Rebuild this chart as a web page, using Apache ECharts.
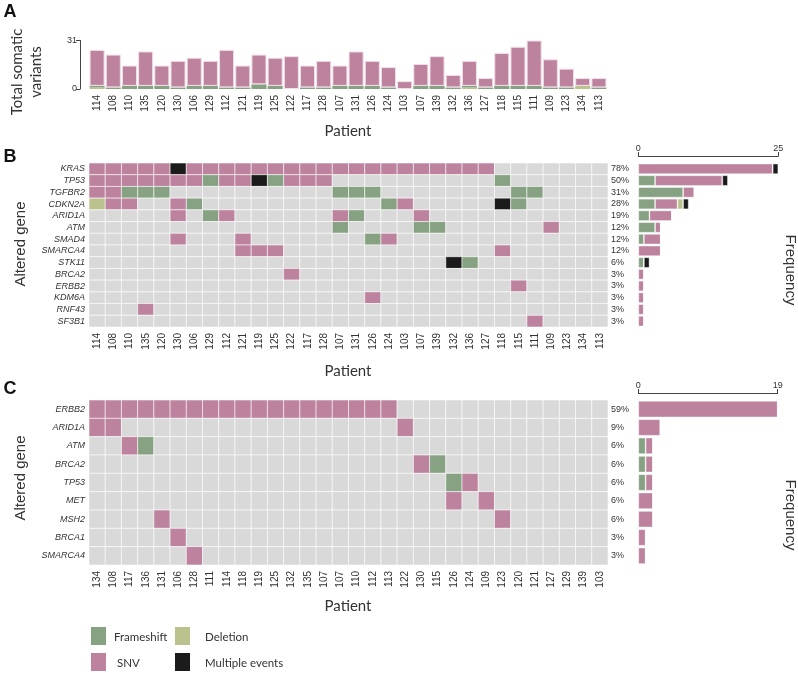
<!DOCTYPE html>
<html>
<head>
<meta charset="utf-8">
<script src="https://cdn.jsdelivr.net/npm/echarts@6/dist/echarts.min.js"></script>
<style>
  html, body { margin: 0; padding: 0; background: #fff; }
  #chart { width: 798px; height: 673px; }
</style>
</head>
<body>
<div id="chart"></div>
<script>
// patient order used in panels A and B (107 really appears twice in the figure)
const patientsAB = ['114', '108', '110', '135', '120', '130', '106', '129', '112', '121', '119', '125', '122', '117', '128', '107',
  '131', '126', '124', '103', '107', '139', '132', '136', '127', '118', '115', '111', '109', '123', '134', '113']
const patientsC = ['134', '108', '117', '136', '131', '106', '128', '111', '114', '118', '119', '125', '132', '135', '107', '107',
  '110', '112', '113', '122', '130', '115', '126', '124', '109', '123', '120', '121', '127', '129', '139', '103']

// panel A: total somatic variants per patient
const snvA = [23, 21, 13, 22, 13, 17, 18, 16, 24, 14, 19, 18, 21, 14, 17, 13, 22, 16, 13, 5, 14, 19, 8, 16, 6, 21, 25, 29, 18, 12, 5, 6]
const frameshiftA = [1, 1, 2, 2, 2, 1, 2, 2, 1, 1, 3, 2, 0, 1, 1, 2, 2, 2, 1, 0, 2, 2, 1, 1, 1, 2, 2, 2, 1, 1, 0, 1]
const deletionA = [1, 0, 0, 0, 0, 0, 0, 0, 0, 0, 0, 0, 0, 0, 0, 0, 0, 0, 0, 0, 0, 0, 0, 1, 0, 0, 0, 0, 0, 0, 2, 0]

// oncoprints: one string per gene, one char per patient, in groups of 8
// . none, S SNV, F frameshift, D deletion, M multiple events
const genesB = ['KRAS', 'TP53', 'TGFBR2', 'CDKN2A', 'ARID1A', 'ATM', 'SMAD4', 'SMARCA4', 'STK11', 'BRCA2', 'ERBB2', 'KDM6A', 'RNF43', 'SF3B1']
const mutB = [
  'SSSSSMSS SSSSSSSS SSSSSSSS S.......',
  'SSSSSSSF SSMFSSS. ........ .F......',
  'SSFFF... .......F FF...... ..FF....',
  'DSS..SF. ........ ..FS.... .MF.....',
  '.....S.F S......S F...S... ........',
  '........ .......F ....FF.. ....S...',
  '.....S.. .S...... .FS..... ........',
  '........ .SSS.... ........ .S......',
  '........ ........ ......MF ........',
  '........ ....S... ........ ........',
  '........ ........ ........ ..S.....',
  '........ ........ .S...... ........',
  '...S.... ........ ........ ........',
  '........ ........ ........ ...S....'
]
const pctB = ['78%', '50%', '31%', '28%', '19%', '12%', '12%', '12%', '6%', '3%', '3%', '3%', '3%', '3%']

const genesC = ['ERBB2', 'ARID1A', 'ATM', 'BRCA2', 'TP53', 'MET', 'MSH2', 'BRCA1', 'SMARCA4']
const mutC = [
  'SSSSSSSS SSSSSSSS SSS..... ........',
  'SS...... ........ ...S.... ........',
  '..SF.... ........ ........ ........',
  '........ ........ ....SF.. ........',
  '........ ........ ......FS ........',
  '........ ........ ......S. S.......',
  '....S... ........ ........ .S......',
  '.....S.. ........ ........ ........',
  '......S. ........ ........ ........'
]
const pctC = ['59%', '9%', '6%', '6%', '6%', '6%', '6%', '3%', '3%']

const KINDS = ['.', 'F', 'S', 'D', 'M']
const COLORS = {
  '.': '#d9d9d9',
  F: '#87a282',
  S: '#bc829e',
  D: '#bcc28d',
  M: '#1b1b1b'
}
const LABEL_FONT = 'Liberation Sans, Arial, sans-serif'
const TEXT = '#333'

function cells (rows) {
  let out = []
  rows.forEach((r, gi) => {
    let s = r.replace(/ /g, '')
    for (let pi = 0; pi < s.length; pi++) out.push([pi, gi, KINDS.indexOf(s[pi])])
  })
  return out
}

function countKind (rows, k) {
  return rows.map(r => r.split('').filter(c => c === k).length)
}

function renderCell (params, api) {
  let c = api.coord([api.value(0), api.value(1)])
  let s = api.size([1, 1])
  let kind = KINDS[api.value(2)]
  return {
    type: 'rect',
    shape: { x: c[0] - s[0] / 2, y: c[1] - s[1] / 2, width: s[0], height: s[1] },
    style: { fill: COLORS[kind], stroke: 'rgba(255,255,255,0.55)', lineWidth: 1 }
  }
}

function patientAxis (gridIndex, names) {
  return {
    type: 'category', gridIndex: gridIndex, data: names,
    axisLine: { show: false }, axisTick: { show: false },
    axisLabel: { rotate: 90, fontSize: 10, margin: 6, color: TEXT, fontFamily: LABEL_FONT, interval: 0 }
  }
}

function geneAxis (gridIndex, names, show) {
  return {
    type: 'category', gridIndex: gridIndex, data: names, inverse: true, show: show,
    axisLine: { show: false }, axisTick: { show: false },
    axisLabel: { fontSize: 9, fontStyle: 'italic', margin: 4, color: TEXT, fontFamily: LABEL_FONT, interval: 0 }
  }
}

function pctAxis (gridIndex, labels) {
  return {
    type: 'category', gridIndex: gridIndex, data: labels, inverse: true, position: 'right',
    axisLine: { show: false }, axisTick: { show: false },
    axisLabel: { fontSize: 9, margin: 3, color: TEXT, fontFamily: LABEL_FONT, interval: 0 }
  }
}

function freqAxis (gridIndex, max) {
  return {
    type: 'value', gridIndex: gridIndex, position: 'top', min: 0, max: max, interval: max, offset: 7,
    axisLine: { show: true, lineStyle: { color: '#444', width: 1 } },
    axisTick: { show: true, length: 4, lineStyle: { color: '#444' } },
    axisLabel: { fontSize: 9, margin: 3, color: TEXT, fontFamily: LABEL_FONT },
    splitLine: { show: false }
  }
}

function freqSeries (axisIndex, rows, stack) {
  return ['F', 'S', 'D', 'M'].map(k => ({
    type: 'bar', xAxisIndex: axisIndex.x, yAxisIndex: axisIndex.y, stack: stack,
    data: countKind(rows, k), barCategoryGap: '10%',
    itemStyle: { color: COLORS[k], borderColor: 'rgba(255,255,255,0.5)', borderWidth: 0.8 }
  }))
}

function label (x, y, text, opts) {
  return Object.assign({
    type: 'text', x: x, y: y,
    style: Object.assign({
      text: text, fill: TEXT, align: 'center', verticalAlign: 'middle',
      fontSize: 14, fontFamily: LABEL_FONT
    }, opts.style || {})
  }, opts.el || {})
}

let chart = echarts.init(document.getElementById('chart'))

let graphics = [
  label(10, 12, 'A', { style: { fontSize: 18, fontWeight: 'bold', fill: '#111' } }),
  label(10, 157, 'B', { style: { fontSize: 18, fontWeight: 'bold', fill: '#111' } }),
  label(10, 389, 'C', { style: { fontSize: 18, fontWeight: 'bold', fill: '#111' } }),
  label(27, 72, 'Total somatic\nvariants', { style: { fontFamily: 'Lato', fontSize: 15, lineHeight: 19 }, el: { rotation: Math.PI / 2 } }),
  label(348, 131, 'Patient', { style: { fontFamily: 'Lato', fontSize: 15 } }),
  label(348, 371, 'Patient', { style: { fontFamily: 'Lato', fontSize: 15 } }),
  label(348, 606, 'Patient', { style: { fontFamily: 'Lato', fontSize: 15 } }),
  label(21, 244, 'Altered gene', { style: { fontSize: 15 }, el: { rotation: Math.PI / 2 } }),
  label(21, 478, 'Altered gene', { style: { fontSize: 15 }, el: { rotation: Math.PI / 2 } }),
  label(790, 270, 'Frequency', { style: { fontSize: 15 }, el: { rotation: -Math.PI / 2 } }),
  label(790, 515, 'Frequency', { style: { fontSize: 15 }, el: { rotation: -Math.PI / 2 } })
]

// legend, drawn as a 2x2 block under panel C
let legendItems = [
  { name: 'Frameshift', kind: 'F', x: 91, y: 627, tx: 114 },
  { name: 'Deletion', kind: 'D', x: 175, y: 627, tx: 205 },
  { name: 'SNV', kind: 'S', x: 91, y: 653, tx: 117 },
  { name: 'Multiple events', kind: 'M', x: 175, y: 653, tx: 205 }
]
legendItems.forEach(it => {
  graphics.push({ type: 'rect', shape: { x: it.x, y: it.y, width: 15, height: 18 }, style: { fill: COLORS[it.kind] } })
  graphics.push(label(it.tx, it.y + 10, it.name, { style: { align: 'left', fontFamily: 'Lato', fontSize: 11.5 } }))
})

let options = {
  animation: false,
  backgroundColor: '#fff',
  grid: [
    { left: 89, top: 40.5, width: 518, height: 48.5 },
    { left: 89, top: 163, width: 519, height: 164 },
    { left: 638.3, top: 163, width: 140, height: 164 },
    { left: 89, top: 400, width: 519, height: 165 },
    { left: 638.3, top: 400, width: 139.4, height: 165 }
  ],
  xAxis: [
    patientAxis(0, patientsAB),
    patientAxis(1, patientsAB),
    freqAxis(2, 25),
    patientAxis(3, patientsC),
    freqAxis(4, 19)
  ],
  yAxis: [
    {
      type: 'value', gridIndex: 0, min: 0, max: 31, interval: 31, offset: 9,
      axisLine: { show: true, lineStyle: { color: '#444' } },
      axisTick: { show: true, length: 4, lineStyle: { color: '#444' } },
      axisLabel: { fontSize: 9, margin: 3, color: TEXT, fontFamily: LABEL_FONT },
      splitLine: { show: false }
    },
    geneAxis(1, genesB, true),
    pctAxis(1, pctB),
    geneAxis(2, genesB, false),
    geneAxis(3, genesC, true),
    pctAxis(3, pctC),
    geneAxis(4, genesC, false)
  ],
  graphic: graphics,
  series: [
    { type: 'bar', xAxisIndex: 0, yAxisIndex: 0, stack: 'a', data: deletionA, barCategoryGap: '7%',
      itemStyle: { color: COLORS.D } },
    { type: 'bar', xAxisIndex: 0, yAxisIndex: 0, stack: 'a', data: frameshiftA,
      itemStyle: { color: COLORS.F } },
    { type: 'bar', xAxisIndex: 0, yAxisIndex: 0, stack: 'a', data: snvA,
      itemStyle: { color: COLORS.S, borderColor: '#f1dfe8', borderWidth: 1 } },
    { type: 'custom', xAxisIndex: 1, yAxisIndex: 1, data: cells(mutB), renderItem: renderCell },
    ...freqSeries({ x: 2, y: 3 }, mutB, 'b'),
    { type: 'custom', xAxisIndex: 3, yAxisIndex: 4, data: cells(mutC), renderItem: renderCell },
    ...freqSeries({ x: 4, y: 6 }, mutC, 'c')
  ]
}

chart.setOption(options)
</script>
</body>
</html>
